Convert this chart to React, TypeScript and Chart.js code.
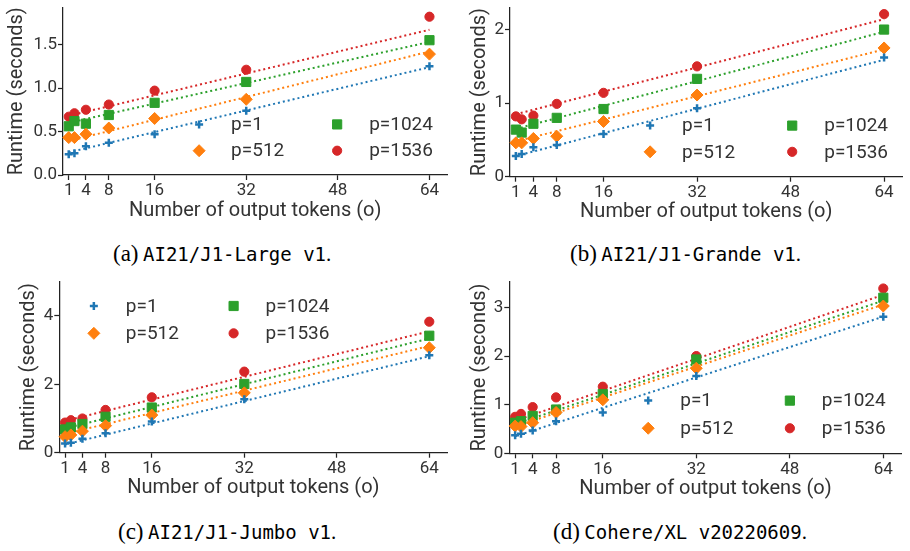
import React, { useEffect, useRef } from 'react';
import { Chart, registerables } from 'chart.js';

Chart.register(...registerables);

// ---------------- data ----------------
const outputTokens = [1, 2, 4, 8, 16, 32, 64];
const xTicks = [1, 4, 8, 16, 32, 48, 64];
const fitX = [1, 64];
const seriesLabels = ['p=1', 'p=512', 'p=1024', 'p=1536'];

// (a) AI21/J1-Large v1
const largeP1 = [0.24, 0.25, 0.33, 0.37, 0.47, 0.74, 1.25];
const largeP512 = [0.43, 0.43, 0.47, 0.54, 0.65, 0.87, 1.39];
const largeP1024 = [0.56, 0.62, 0.59, 0.69, 0.83, 1.07, 1.55];
const largeP1536 = [0.67, 0.71, 0.75, 0.81, 0.97, 1.21, 1.82];
const largeFitStart = [0.26, 0.39, 0.6, 0.68];
const largeFitEnd = [1.24, 1.42, 1.53, 1.67];
const largeYTicks = [0, 0.5, 1.0, 1.5];
const largeYLabels = ['0.0', '0.5', '1.0', '1.5'];

// (b) AI21/J1-Grande v1
const grandeP1 = [0.28, 0.31, 0.4, 0.43, 0.58, 0.93, 1.62];
const grandeP512 = [0.46, 0.46, 0.52, 0.55, 0.75, 1.11, 1.75];
const grandeP1024 = [0.64, 0.6, 0.72, 0.8, 0.92, 1.33, 2.0];
const grandeP1536 = [0.82, 0.78, 0.83, 0.99, 1.14, 1.5, 2.21];
const grandeFitStart = [0.28, 0.48, 0.65, 0.85];
const grandeFitEnd = [1.59, 1.73, 1.97, 2.14];
const grandeYTicks = [0, 1, 2];
const grandeYLabels = ['0', '1', '2'];

// (c) AI21/J1-Jumbo v1
const jumboP1 = [0.27, 0.29, 0.41, 0.57, 0.91, 1.56, 2.85];
const jumboP512 = [0.47, 0.52, 0.63, 0.79, 1.1, 1.75, 3.07];
const jumboP1024 = [0.68, 0.74, 0.84, 1.05, 1.32, 2.01, 3.42];
const jumboP1536 = [0.88, 0.95, 1.0, 1.25, 1.62, 2.37, 3.83];
const jumboFitStart = [0.24, 0.55, 0.71, 0.93];
const jumboFitEnd = [2.82, 3.12, 3.34, 3.55];
const jumboYTicks = [0, 2, 4];
const jumboYLabels = ['0', '2', '4'];

// (d) Cohere/XL v20220609
const cohereP1 = [0.37, 0.4, 0.47, 0.66, 0.84, 1.59, 2.81];
const cohereP512 = [0.56, 0.55, 0.63, 0.84, 1.1, 1.75, 3.03];
const cohereP1024 = [0.63, 0.66, 0.77, 0.9, 1.22, 1.93, 3.2];
const cohereP1536 = [0.75, 0.81, 0.95, 1.15, 1.37, 2.0, 3.39];
const cohereFitStart = [0.35, 0.55, 0.6, 0.67];
const cohereFitEnd = [2.81, 3.06, 3.14, 3.26];
const cohereYTicks = [0, 1, 2, 3];
const cohereYLabels = ['0', '1', '2', '3'];

// ---------------- styles ----------------
const COLORS = ['#1f77b4', '#ff7f0e', '#2ca02c', '#d62728'];
const POINT_STYLES = ['cross', 'rectRot', 'rect', 'circle'];
const POINT_RADII = [4, 6, 6.5, 4.6];
const POINT_BORDER = [2.5, 1, 1, 1];
const TEXT_COLOR = '#333333';
const AXIS_COLOR = '#222222';
const FONT = 'Roboto';
const TICK_SIZE = 17;
const LEGEND_SIZE = 19;
const TITLE_SIZE = 20;

type Panel = {
  series: number[][];
  fitStart: number[];
  fitEnd: number[];
  yTicks: number[];
  yLabels: string[];
  yMax: number;
  left: number;
  top: number;
  area: { l: number; t: number; r: number; b: number };
  yTitleX: number;
  legend: { c1: number; c2: number; r1: number; r2: number };
  captionLabel: string;
  captionMono: string;
  captionLeft: number;
  captionTop: number;
};

const CW = 455;
const CH = 230;

const panels: Panel[] = [
  {
    series: [largeP1, largeP512, largeP1024, largeP1536],
    fitStart: largeFitStart,
    fitEnd: largeFitEnd,
    yTicks: largeYTicks,
    yLabels: largeYLabels,
    yMax: 1.926,
    left: 0,
    top: 0,
    area: { l: 63, t: 3, r: 453, b: 175 },
    yTitleX: 17,
    legend: { c1: 0.354, c2: 0.713, r1: 0.698, r2: 0.855 },
    captionLabel: '(a)',
    captionMono: 'AI21/J1-Large v1',
    captionLeft: 113,
    captionTop: 242,
  },
  {
    series: [grandeP1, grandeP512, grandeP1024, grandeP1536],
    fitStart: grandeFitStart,
    fitEnd: grandeFitEnd,
    yTicks: grandeYTicks,
    yLabels: grandeYLabels,
    yMax: 2.3,
    left: 455,
    top: 0,
    area: { l: 55, t: 0, r: 455, b: 176.7 },
    yTitleX: 25,
    legend: { c1: 0.357, c2: 0.719, r1: 0.698, r2: 0.853 },
    captionLabel: '(b)',
    captionMono: 'AI21/J1-Grande v1',
    captionLeft: 570,
    captionTop: 242,
  },
  {
    series: [jumboP1, jumboP512, jumboP1024, jumboP1536],
    fitStart: jumboFitStart,
    fitEnd: jumboFitEnd,
    yTicks: jumboYTicks,
    yLabels: jumboYLabels,
    yMax: 5,
    left: 0,
    top: 270,
    area: { l: 59.3, t: 11.7, r: 452.7, b: 182.7 },
    yTitleX: 29,
    legend: { c1: 0.089, c2: 0.449, r1: 0.142, r2: 0.302 },
    captionLabel: '(c)',
    captionMono: 'AI21/J1-Jumbo v1',
    captionLeft: 118,
    captionTop: 520,
  },
  {
    series: [cohereP1, cohereP512, cohereP1024, cohereP1536],
    fitStart: cohereFitStart,
    fitEnd: cohereFitEnd,
    yTicks: cohereYTicks,
    yLabels: cohereYLabels,
    yMax: 3.53,
    left: 455,
    top: 270,
    area: { l: 54.3, t: 11.7, r: 446.7, b: 183.3 },
    yTitleX: 25,
    legend: { c1: 0.354, c2: 0.715, r1: 0.693, r2: 0.854 },
    captionLabel: '(d)',
    captionMono: 'Cohere/XL v20220609',
    captionLeft: 553,
    captionTop: 520,
  },
];

function drawMarker(ctx: CanvasRenderingContext2D, i: number, x: number, y: number) {
  const r = POINT_RADII[i];
  const c = COLORS[i];
  ctx.save();
  ctx.fillStyle = c;
  ctx.strokeStyle = c;
  ctx.lineWidth = POINT_BORDER[i];
  ctx.beginPath();
  const s = POINT_STYLES[i];
  if (s === 'cross') {
    ctx.moveTo(x - r, y);
    ctx.lineTo(x + r, y);
    ctx.moveTo(x, y - r);
    ctx.lineTo(x, y + r);
    ctx.stroke();
  } else if (s === 'rectRot') {
    ctx.moveTo(x, y - r);
    ctx.lineTo(x + r, y);
    ctx.lineTo(x, y + r);
    ctx.lineTo(x - r, y);
    ctx.closePath();
    ctx.fill();
    ctx.stroke();
  } else if (s === 'rect') {
    const h = r * Math.SQRT1_2;
    ctx.rect(x - h, y - h, 2 * h, 2 * h);
    ctx.fill();
    ctx.stroke();
  } else {
    ctx.arc(x, y, r, 0, Math.PI * 2);
    ctx.fill();
    ctx.stroke();
  }
  ctx.restore();
}

function makeConfig(p: Panel): any {
  const scatterSets = p.series.map((vals, i) => ({
    type: 'scatter',
    label: seriesLabels[i],
    data: outputTokens.map((x, k) => ({ x, y: vals[k] })),
    pointStyle: POINT_STYLES[i],
    pointRadius: POINT_RADII[i],
    pointBorderWidth: POINT_BORDER[i],
    backgroundColor: COLORS[i],
    borderColor: COLORS[i],
    showLine: false,
    clip: false,
  }));
  const fitSets = p.series.map((_, i) => ({
    type: 'line',
    label: seriesLabels[i] + ' fit',
    data: [
      { x: fitX[0], y: p.fitStart[i] },
      { x: fitX[1], y: p.fitEnd[i] },
    ],
    borderColor: COLORS[i],
    borderWidth: 2,
    borderDash: [2, 3],
    pointRadius: 0,
    fill: false,
    clip: false,
  }));

  const legendPlugin = {
    id: 'panelLegend',
    afterDatasetsDraw(chart: any) {
      const { ctx, chartArea: a } = chart;
      const cols = [p.legend.c1, p.legend.c1, p.legend.c2, p.legend.c2];
      const rows = [p.legend.r1, p.legend.r2, p.legend.r1, p.legend.r2];
      ctx.save();
      ctx.font = `${LEGEND_SIZE}px ${FONT}`;
      ctx.textBaseline = 'middle';
      ctx.textAlign = 'left';
      for (let i = 0; i < 4; i++) {
        const x = a.left + cols[i] * (a.right - a.left);
        const y = a.top + rows[i] * (a.bottom - a.top);
        drawMarker(ctx, i, x, y);
        ctx.fillStyle = TEXT_COLOR;
        ctx.fillText(seriesLabels[i], x + 32, y + 1);
      }
      ctx.restore();
    },
  };

  const titleLH = TITLE_SIZE * 1.2;
  const xTitleBottomPad = CH - (p.area.b + 35.5) - titleLH / 2;

  return {
    data: { datasets: [...scatterSets, ...fitSets] },
    plugins: [legendPlugin],
    options: {
      animation: false,
      responsive: false,
      maintainAspectRatio: false,
      layout: { padding: { left: 0, top: p.area.t, right: CW - p.area.r, bottom: 0 } },
      plugins: { legend: { display: false }, tooltip: { enabled: false } },
      scales: {
        x: {
          type: 'linear',
          min: 0,
          max: 67.15,
          afterBuildTicks: (s: any) => {
            s.ticks = xTicks.map((v) => ({ value: v }));
          },
          afterFit: (s: any) => {
            s.height = CH - p.area.b;
            s.paddingLeft = 0;
            s.paddingRight = 0;
          },
          ticks: {
            autoSkip: false,
            maxRotation: 0,
            padding: 1,
            color: TEXT_COLOR,
            font: { family: FONT, size: TICK_SIZE },
            callback: (v: any) => String(v),
          },
          grid: {
            drawOnChartArea: false,
            drawTicks: true,
            tickLength: 5,
            tickWidth: 1.25,
            tickColor: AXIS_COLOR,
          },
          border: { display: true, color: AXIS_COLOR, width: 1.25 },
          title: {
            display: true,
            text: 'Number of output tokens (o)',
            color: TEXT_COLOR,
            font: { family: FONT, size: TITLE_SIZE },
            padding: { top: 0, bottom: xTitleBottomPad },
          },
        },
        y: {
          type: 'linear',
          min: 0,
          max: p.yMax,
          afterBuildTicks: (s: any) => {
            s.ticks = p.yTicks.map((v) => ({ value: v }));
          },
          afterFit: (s: any) => {
            s.width = p.area.l;
            s.paddingTop = 0;
            s.paddingBottom = 0;
          },
          ticks: {
            autoSkip: false,
            padding: 1,
            color: TEXT_COLOR,
            font: { family: FONT, size: TICK_SIZE },
            callback: (v: any) => {
              const k = p.yTicks.indexOf(v);
              return k >= 0 ? p.yLabels[k] : '';
            },
          },
          grid: {
            drawOnChartArea: false,
            drawTicks: true,
            tickLength: 5,
            tickWidth: 1.25,
            tickColor: AXIS_COLOR,
          },
          border: { display: true, color: AXIS_COLOR, width: 1.25 },
          title: {
            display: true,
            text: 'Runtime (seconds)',
            color: TEXT_COLOR,
            font: { family: FONT, size: TITLE_SIZE },
            padding: { top: p.yTitleX - titleLH / 2, bottom: 0 },
          },
        },
      },
    },
  };
}

function PanelChart({ p }: { p: Panel }) {
  const ref = useRef<HTMLCanvasElement | null>(null);
  useEffect(() => {
    if (!ref.current) return;
    const chart = new Chart(ref.current, makeConfig(p));
    return () => chart.destroy();
  }, [p]);
  return (
    <>
      <div
        style={{
          position: 'absolute',
          left: p.left,
          top: p.top,
          width: CW,
          height: CH,
        }}
      >
        <canvas ref={ref} width={CW} height={CH} style={{ width: CW, height: CH, display: 'block' }} />
      </div>
      <div
        style={{
          position: 'absolute',
          left: p.captionLeft,
          top: p.captionTop,
          whiteSpace: 'nowrap',
          lineHeight: '24px',
          color: '#000',
        }}
      >
        <span style={{ fontFamily: '"Liberation Serif", serif', fontSize: 23 }}>{p.captionLabel}</span>
        <span style={{ fontFamily: '"Liberation Serif", serif', fontSize: 18 }}> </span>
        <span style={{ fontFamily: '"DejaVu Sans Mono", monospace', fontSize: 19 }}>{p.captionMono}</span>
        <span style={{ fontFamily: '"Liberation Serif", serif', fontSize: 21 }}>.</span>
      </div>
    </>
  );
}

export default function App() {
  return (
    <div
      style={{
        position: 'fixed',
        left: 0,
        top: 0,
        width: 910,
        height: 551,
        background: '#fff',
        overflow: 'hidden',
      }}
    >
      {panels.map((p, i) => (
        <PanelChart key={i} p={p} />
      ))}
    </div>
  );
}
